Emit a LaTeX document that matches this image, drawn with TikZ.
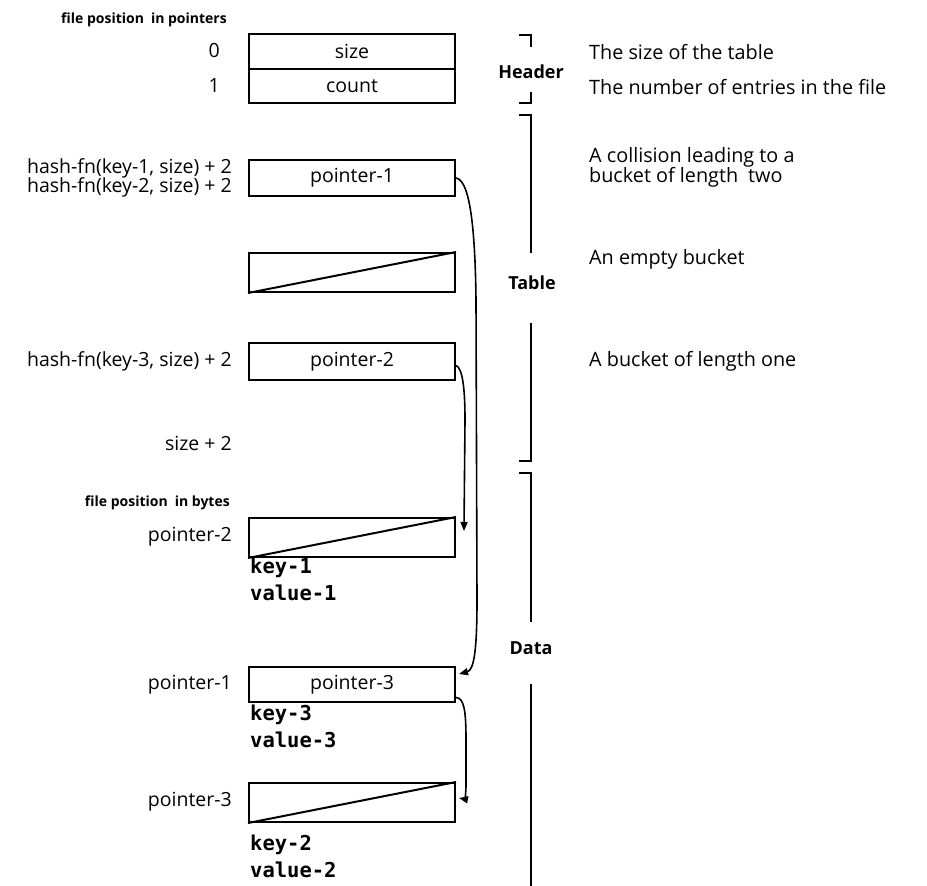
\documentclass[tikz,border=0pt]{standalone}
\usepackage{fontspec}
\setmainfont{Open Sans}
\setmonofont{DejaVu Sans Mono}
\usetikzlibrary{arrows.meta,calc}
\begin{document}
\begin{tikzpicture}[x=1pt,y=-1pt,
  box/.style={draw,line width=2pt,minimum width=206pt,inner sep=0pt,font=\fontsize{19.5}{21}\selectfont},
  lbl/.style={anchor=east,inner sep=0pt,font=\fontsize{19.5}{21}\selectfont},
  note/.style={anchor=west,inner sep=0pt,font=\fontsize{19.8}{21}\selectfont},
  small/.style={anchor=east,inner sep=0pt,font=\fontsize{14}{16}\selectfont\bfseries},
  part/.style={inner sep=0pt,font=\fontsize{18}{20}\selectfont\bfseries},
  code/.style={anchor=west,inner sep=0pt,font=\fontsize{20.5}{22}\selectfont\ttfamily\bfseries},
  brk/.style={line width=2pt},
  arr/.style={line width=1.6pt,-{Triangle[length=9pt,width=7pt]}}]
\useasboundingbox (0,0) rectangle (927,886);

% header boxes
\node[box,minimum height=34.5pt] (sizeb) at (352,51.25) {size};
\node[box,minimum height=34.5pt] (countb) at (352,85.75) {count};
% table
\node[box,minimum height=36pt] (p1) at (352,178) {pointer-1};
\node[box,minimum height=39pt] (e1) at (352,272.5) {};
\draw[line width=2pt] (e1.south west) -- (e1.north east);
\node[box,minimum height=37pt] (p2) at (352,361.5) {pointer-2};
% data
\node[box,minimum height=39pt] (d1) at (352,537.5) {};
\draw[line width=2pt] (d1.south west) -- (d1.north east);
\node[box,minimum height=35pt] (p3) at (352,684.5) {pointer-3};
\node[box,minimum height=39pt] (d3) at (352,802.5) {};
\draw[line width=2pt] (d3.south west) -- (d3.north east);

% left labels
\node[small] (fpp) at (227,20) {file position\enspace in pointers};
\node[lbl] (l0) at (220,51) {0};
\node[lbl] (l1) at (220,86) {1};
\node[lbl] (h1) at (232,168) {hash-fn(key-1, size) + 2};
\node[lbl] (h2) at (232,187) {hash-fn(key-2, size) + 2};
\node[lbl] (h3) at (232,361) {hash-fn(key-3, size) + 2};
\node[lbl] (s2) at (232,443) {size + 2};
\node[small] (fpb) at (230,503) {file position\enspace in bytes};
\node[lbl] (lp2) at (232,537) {pointer-2};
\node[lbl] (lp1) at (232,685) {pointer-1};
\node[lbl] (lp3) at (232,802) {pointer-3};

% code texts
\node[code] (k1) at (250,568) {key-1};
\node[code] (v1) at (250,593) {value-1};
\node[code] (k3) at (250,715) {key-3};
\node[code] (v3) at (250,740) {value-3};
\node[code] (k2) at (250,845) {key-2};
\node[code] (v2) at (250,870) {value-2};

% brackets
\draw[brk] (519,35) -- (531,35) -- (531,47);
\draw[brk] (531,92) -- (531,103) -- (519,103);
\draw[brk] (519,115) -- (531,115) -- (531,253);
\draw[brk] (531,323) -- (531,461) -- (519,461);
\draw[brk] (519,473) -- (531,473) -- (531,622);
\draw[brk] (531,684) -- (531,886);
\node[part] (hdr) at (531,72) {Header};
\node[part] (tbl) at (532,283) {Table};
\node[part] (dat) at (531,648) {Data};

% notes
\node[note] (n1) at (589,52) {The size of the table};
\node[note] (n2) at (589,87) {The number of entries in the file};
\node[note] (n3) at (589,157) {A collision leading to a};
\node[note] (n4) at (589,177) {bucket of length\enspace two};
\node[note] (n5) at (589,259) {An empty bucket};
\node[note] (n6) at (589,361) {A bucket of length one};

% pointers
\coordinate (a1) at ($(p3.north east)+(3,8)$);
\draw[arr] (p1.east) .. controls (468,180) and (475,215) .. (476,300)
  -- (477,600) .. controls (477,650) and (474,670) .. (a1);
\coordinate (a2) at ($(d1.north east)+(8,14)$);
\draw[arr] ($(p2.east)+(0,4)$) .. controls (462,368) and (465,385) .. (465,420)
  -- (a2);
\coordinate (a3) at ($(d3.north east)+(3,16)$);
\draw[arr] ($(p3.east)+(0,13)$) .. controls (464,698) and (466,710) .. (466,740)
  -- (466,785) .. controls (466,796) and (464,799) .. (a3);
\end{tikzpicture}
\end{document}
